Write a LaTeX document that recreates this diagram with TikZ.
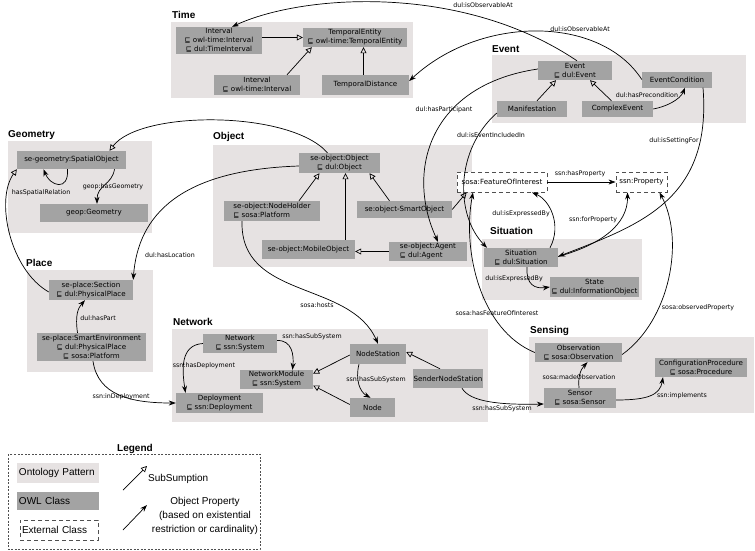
\documentclass[tikz,border=0pt]{standalone}
\usepackage{fontspec}
\setmainfont{DejaVu Sans}
\newfontfamily\headfont{Liberation Sans}
\usetikzlibrary{arrows.meta}

\definecolor{patbg}{RGB}{230,226,226}
\definecolor{owlgray}{RGB}{163,163,163}
\definecolor{extline}{RGB}{80,80,80}

\newcommand{\classfont}{\fontsize{7.1}{9}\selectfont}
\newcommand{\edgefont}{\fontsize{6.3}{7}\selectfont}
\newcommand{\headsize}{\headfont\bfseries\fontsize{10}{12}\selectfont}
\newcommand{\legendfont}{\headfont\fontsize{10}{14}\selectfont}

\tikzset{
  owl/.style={fill=owlgray, inner sep=0pt, font=\classfont, align=center},
  extclass/.style={draw=extline, fill=white, line width=0.9pt, dash pattern=on 4pt off 3pt, inner sep=0pt, font=\classfont},
  sub/.style={-{Triangle[open,length=6pt,width=6pt]}, line width=0.7pt},
  prop/.style={-{Stealth[length=7pt,width=5pt]}, line width=0.7pt},
  lbl/.style={font=\edgefont, inner sep=0pt},
  grouptitle/.style={font=\headsize, anchor=base west, inner sep=0pt},
  legendclass/.style={font=\legendfont, inner ysep=0pt, inner xsep=2pt, align=left},
  legendtext/.style={font=\legendfont, inner sep=0pt},
}

\begin{document}
\begin{tikzpicture}[x=1pt, y=-1pt]
\useasboundingbox (0,0) rectangle (755,550);

\fill[patbg] (171,22) rectangle (413,98);
\fill[patbg] (492,55) rectangle (746,123);
\fill[patbg] (8,141) rectangle (152,233);
\fill[patbg] (213,145) rectangle (472,267);
\fill[patbg] (27,270) rectangle (153,372);
\fill[patbg] (172,329) rectangle (488,422);
\fill[patbg] (482,239) rectangle (642,300);
\fill[patbg] (529,337) rectangle (754,413);

\node[grouptitle] (hTime) at (172,18) {Time};
\node[grouptitle] (hEvent) at (492,52) {Event};
\node[grouptitle] (hGeometry) at (8,137) {Geometry};
\node[grouptitle] (hObject) at (213,139) {Object};
\node[grouptitle] (hPlace) at (26,266) {Place};
\node[grouptitle] (hNetwork) at (173,325) {Network};
\node[grouptitle] (hSituation) at (490,234) {Situation};
\node[grouptitle] (hSensing) at (530,333) {Sensing};

\node[owl, minimum width=86pt, minimum height=27pt] (tInterval) at (219,40.5) {Interval\\⊑ owl-time:Interval\\⊑ dul:TimeInterval};
\node[owl, minimum width=104pt, minimum height=19pt] (tEntity) at (355,37.5) {TemporalEntity\\⊑ owl-time:TemporalEntity};
\node[owl, minimum width=86pt, minimum height=20pt] (tInterval2) at (257,85) {Interval\\⊑ owl-time:Interval};
\node[owl, minimum width=87pt, minimum height=20pt] (tDistance) at (365.5,85) {TemporalDistance};

\node[owl, minimum width=74pt, minimum height=19pt] (eEvent) at (575,70.5) {Event\\⊑ dul:Event};
\node[owl, minimum width=70pt, minimum height=16pt] (eCond) at (677,79.5) {EventCondition};
\node[owl, minimum width=70pt, minimum height=16pt] (eManif) at (532,109) {Manifestation};
\node[owl, minimum width=71pt, minimum height=16pt] (eComplex) at (617.5,109) {ComplexEvent};

\node[owl, minimum width=109pt, minimum height=18pt] (gSpatial) at (71.5,160) {se-geometry:SpatialObject};
\node[owl, minimum width=108pt, minimum height=18pt] (gGeom) at (94,213) {geop:Geometry};

\node[owl, minimum width=81pt, minimum height=20pt] (oObject) at (339.5,163) {se-object:Object\\⊑ dul:Object};
\node[owl, minimum width=96pt, minimum height=20pt, align=left] (oHolder) at (272,211) {se-object:NodeHolder\\⊑ sosa:Platform};
\node[owl, minimum width=95pt, minimum height=17pt] (oSmart) at (404.5,209.5) {se:object-SmartObject};
\node[owl, minimum width=93pt, minimum height=19pt] (oMobile) at (308.5,249.5) {se-object:MobileObject};
\node[owl, minimum width=78pt, minimum height=19pt, align=left] (oAgent) at (428,251.5) {se-object:Agent\\⊑ dul:Agent};

\node[extclass, minimum width=90pt, minimum height=20pt] (sFoi) at (502,182) {sosa:FeatureOfInterest};
\node[extclass, minimum width=51pt, minimum height=20pt] (sProperty) at (641.5,182) {ssn:Property};

\node[owl, minimum width=74pt, minimum height=19pt] (sSituation) at (521,257.5) {Situation\\⊑ dul:Situation};
\node[owl, minimum width=89pt, minimum height=20pt] (sState) at (594.5,287) {State\\⊑ dul:InformationObject};

\node[owl, minimum width=84pt, minimum height=20pt] (pSection) at (91,290) {se-place:Section\\⊑ dul:PhysicalPlace};
\node[owl, minimum width=109pt, minimum height=28pt] (pSmartEnv) at (91.5,347) {se-place:SmartEnvironment\\⊑ dul:PhysicalPlace\\⊑ sosa:Platform};

\node[owl, minimum width=74pt, minimum height=19pt] (nNetwork) at (240,343.5) {Network\\⊑ ssn:System};
\node[owl, minimum width=73pt, minimum height=19pt] (nModule) at (276.5,379.5) {NetworkModule\\⊑ ssn:System};
\node[owl, minimum width=87pt, minimum height=20pt] (nDeploy) at (219.5,403) {Deployment\\⊑ ssn:Deployment};
\node[owl, minimum width=56pt, minimum height=20pt] (nStation) at (378,354) {NodeStation};
\node[owl, minimum width=45pt, minimum height=19pt] (nNode) at (372.5,407.5) {Node};
\node[owl, minimum width=70pt, minimum height=19pt] (nSender) at (448,378.5) {SenderNodeStation};

\node[owl, minimum width=87pt, minimum height=19pt] (sObs) at (578.5,352.5) {Observation\\⊑ sosa:Observation};
\node[owl, minimum width=72pt, minimum height=20pt] (sSensor) at (580,398) {Sensor\\⊑ sosa:Sensor};
\node[owl, minimum width=92pt, minimum height=19pt] (sConfig) at (701,367.5) {ConfigurationProcedure\\⊑ sosa:Procedure};

\draw[sub] (tInterval.east |- tEntity.west) -- (tEntity.west);
\draw[sub] ([xshift=30pt]tInterval2.north) -- ([xshift=9pt]tEntity.south west);
\draw[sub] ([xshift=-2pt]tDistance.north) -- ([xshift=-2pt]tDistance.north |- tEntity.south);
\draw[sub] ([xshift=5pt]eManif.north) -- ([xshift=-19pt]eEvent.south);
\draw[sub] ([xshift=-6pt]eComplex.north) -- ([xshift=15pt]eEvent.south);
\draw[sub] ([xshift=27pt]oHolder.north) -- ([xshift=-20pt]oObject.south);
\draw[sub] ([xshift=37pt]oMobile.north) -- ([xshift=37pt]oMobile.north |- oObject.south);
\draw[sub] ([xshift=-15pt]oSmart.north) -- ([xshift=30pt]oObject.south);
\draw[sub] (oAgent.west) -- (oAgent.west -| oMobile.east);
\draw[sub] (oSmart.east) -- ([xshift=10pt]sFoi.south west);
\draw[sub] ([xshift=-12pt]oObject.north) .. controls (290,110) and (140,110) .. ([xshift=38pt]gSpatial.north);
\draw[sub] ([yshift=-2pt]pSection.west) .. controls (10,270) and (-5,200) .. (gSpatial.south west);
\draw[sub] ([yshift=-1pt]nStation.west) -- ([yshift=6pt]nModule.east);
\draw[sub] ([yshift=3pt]nNode.west) -- ([yshift=-6pt]nModule.east);
\draw[sub] ([xshift=-8pt]nSender.north) -- ([yshift=2pt]nStation.east);

\draw[prop] ([xshift=2pt]eEvent.north) .. controls (460,-18) and (300,-5) .. ([xshift=13pt]tInterval.north);
\node[lbl] (lObsAt1) at (483,5) {dul:isObservableAt};
\draw[prop] (eCond.west) .. controls (600,15) and (480,15) .. ([yshift=4pt]tDistance.east);
\node[lbl] (lObsAt2) at (580,29) {dul:isObservableAt};
\draw[prop] (eComplex.east) .. controls (665,107) and (680,100) .. ([xshift=8pt]eCond.south);
\node[lbl] (lPrecond) at (647,95) {dul:hasPrecondition};
\draw[prop] ([xshift=26pt]eCond.south) .. controls (712,200) and (640,225) .. ([yshift=1pt]sSituation.east);
\node[lbl] (lSetting) at (674,141) {dul:isSettingFor};
\draw[prop] ([yshift=1.5pt]eEvent.west) .. controls (430,85) and (405,170) .. ([xshift=10pt]oAgent.north);
\node[lbl] (lParticipant) at (444,110) {dul:hasParticipant};
\draw[prop] ([yshift=-4pt]eManif.west) .. controls (455,150) and (455,215) .. ([xshift=-34pt]sSituation.north);
\node[lbl] (lIncluded) at (491,135) {dul:isEventIncludedIn};

\draw[prop] ([yshift=-3pt]oObject.west) .. controls (180,170) and (138,215) .. (pSection.north east);
\node[lbl] (lLocation) at (170,255) {dul:hasLocation};
\draw[prop] ([xshift=-4pt]gSpatial.south) .. controls (69,192) and (50,186) .. ([xshift=-28pt]gSpatial.south);
\node[lbl] (lSpatialRel) at (41,193) {hasSpatialRelation};
\draw[prop] ([xshift=43pt]gSpatial.south) .. controls (112,185) and (97,185) .. ([xshift=3pt]gGeom.north);
\node[lbl] (lGeometry) at (113,187) {geop:hasGeometry};
\draw[prop] ([xshift=-14pt]pSmartEnv.north) .. controls (75,315) and (78,308) .. ([xshift=-6pt]pSection.south);
\node[lbl] (lPart) at (98,318) {dul:hasPart};
\draw[prop] ([xshift=1.5pt]pSmartEnv.south) .. controls (98,395) and (130,403) .. (nDeploy.west);
\node[lbl] (lInDeploy) at (121,397) {ssn:inDeployment};

\draw[prop] ([xshift=-30pt]oHolder.south) .. controls (240,300) and (350,280) .. (nStation.north);
\node[lbl] (lHosts) at (317,305) {sosa:hosts};
\draw[prop] ([yshift=3pt]nNetwork.east) .. controls (292,340) and (294,355) .. ([xshift=16pt]nModule.north);
\node[lbl] (lSubSys1) at (312,337) {ssn:hasSubSystem};
\draw[prop] (nNetwork.west) .. controls (180,345) and (182,370) .. ([xshift=-34pt]nDeploy.north);
\node[lbl] (lHasDeploy) at (204,366) {ssn:hasDeployment};
\draw[prop] ([xshift=-19pt]nStation.south) .. controls (355,380) and (360,392) .. ([xshift=-2pt]nNode.north);
\node[lbl] (lSubSys2) at (376,380) {ssn:hasSubSystem};
\draw[prop] ([xshift=14pt]nSender.south) .. controls (470,402) and (500,405) .. ([yshift=-6pt]sSensor.west);
\node[lbl] (lSubSys3) at (502,409) {ssn:hasSubSystem};

\draw[prop] (sFoi.east) -- (sProperty.west);
\node[lbl] (lHasProp) at (580,174) {ssn:hasProperty};
\draw[prop] ([xshift=29pt]sSituation.north) .. controls (562,225) and (550,200) .. ([xshift=30pt]sFoi.south);
\node[lbl] (lExpressed1) at (521,214) {dul:isExpressedBy};
\draw[prop] ([yshift=1pt]sSituation.east) .. controls (600,245) and (628,225) .. ([xshift=-14pt]sProperty.south);
\node[lbl] (lForProp) at (593,220) {ssn:forProperty};
\draw[prop] ([xshift=6pt]sSituation.south) .. controls (526,285) and (535,289) .. (sState.west);
\node[lbl] (lExpressed2) at (514,279) {dul:isExpressedBy};

\draw[prop] (sObs.west) .. controls (480,330) and (462,250) .. ([xshift=-29pt]sFoi.south);
\node[lbl] (lFoi) at (497,313) {sosa:hasFeatureOfInterest};
\draw[prop] ([yshift=-2pt]sObs.east) .. controls (670,320) and (685,240) .. ([xshift=18pt]sProperty.south);
\node[lbl] (lObsProp) at (698,308) {sosa:observedProperty};
\draw[prop] ([xshift=-1pt]sSensor.north) .. controls (578,378) and (580,370) .. ([xshift=9pt]sObs.south);
\node[lbl] (lMade) at (579,377) {sosa:madeObservation};
\draw[prop] ([yshift=-2pt]sSensor.east) .. controls (648,400) and (660,395) .. ([xshift=-38pt]sConfig.south);
\node[lbl] (lImpl) at (682,396) {ssn:implements};

\draw[extline, line width=0.7pt, dash pattern=on 2pt off 1.5pt] (8,454) rectangle (260,549);
\node[grouptitle] (hLegend) at (117,451) {Legend};
\node[legendclass, fill=patbg, text width=78pt, minimum height=20pt] (lPattern) at (58,473) {Ontology Pattern};
\node[legendclass, fill=owlgray, text width=78pt, minimum height=18pt] (lOwl) at (58,501) {OWL Class};
\node[legendclass, draw=extline, line width=0.9pt, dash pattern=on 4pt off 3pt, text width=74pt, minimum height=20pt] (lExt) at (59,530) {External Class};
\coordinate (lSubFrom) at (123,490);
\coordinate (lSubTo) at (147,466);
\draw[sub] (lSubFrom) -- (lSubTo);
\node[legendtext, anchor=west] (lSubText) at (148,479) {SubSumption};
\coordinate (lPropFrom) at (123,530);
\coordinate (lPropTo) at (147,505);
\draw[prop] (lPropFrom) -- (lPropTo);
\node[legendtext, align=center] (lPropText) at (205,516) {Object Property\\(based on existential\\restriction or cardinality)};
\end{tikzpicture}
\end{document}
